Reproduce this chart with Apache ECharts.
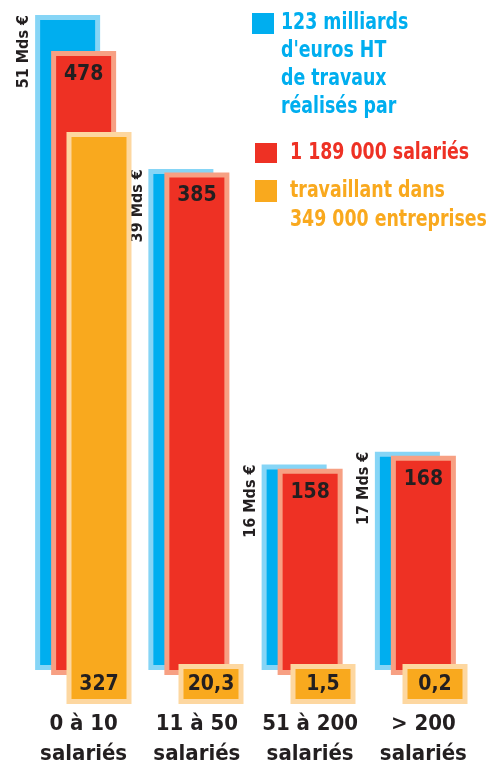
<!DOCTYPE html>
<html><head><meta charset="utf-8">
<script src="https://cdn.jsdelivr.net/npm/echarts@6/dist/echarts.min.js"></script>
<style>html,body{margin:0;padding:0;background:#fff}#c{width:491px;height:769px}</style>
</head><body><div id="c"></div>
<script>
const categories = ['0 à 10\nsalariés', '11 à 50\nsalariés', '51 à 200\nsalariés', '> 200\nsalariés'];
const chiffreAffaires = [51, 39, 16, 17];        // milliards d'euros HT
const salaries = [478, 385, 158, 168];           // milliers
const entreprises = [327, 20.3, 1.5, 0.2];       // milliers
const legendLabels = ["123 milliards\nd'euros HT\nde travaux\nréalisés par", '1 189 000 salariés', 'travaillant dans\n349 000 entreprises'];

const FONT = "'DejaVu Sans Condensed','Liberation Sans Narrow',sans-serif";
const DARK = '#231F20';
const C = {blue:'#00AEEF', blueEdge:'#86D5F6', red:'#EE3124', redEdge:'#F7A083', orange:'#F9A91E', orangeEdge:'#FDD7A0'};
const fmt = v => String(v).replace('.', ',');

const BW = 65, GW = 453;
const grids = [
  {left: 11, width: GW, top: 15, bottom: 99},
  {left: 27, width: GW, top: 51, bottom: 82},
  {left: 43, width: GW, top: 132, bottom: 65}
];
const chart = echarts.init(document.getElementById('c'), null, {renderer:'canvas'});
const xAxis = grids.map((g, i) => ({
  gridIndex: i, type: 'category', data: categories,
  axisLine:{show:false}, axisTick:{show:false},
  axisLabel: i === 1 ? {show:true, margin: 34, color: DARK, fontFamily: FONT, fontWeight:'bold', fontSize: 22, lineHeight: 30, interval: 0} : {show:false}
}));
const yAxis = [
  {gridIndex:0, type:'value', min:0, max:51, show:false},
  {gridIndex:1, type:'value', min:0, max:478, show:false},
  {gridIndex:2, type:'value', min:0, max:327, show:false}
];
chart.setOption({
  animation: false,
  grid: grids,
  xAxis, yAxis,
  series: [
    {name: legendLabels[0], type:'bar', xAxisIndex:0, yAxisIndex:0, data: chiffreAffaires, barWidth: BW, z: 2,
     itemStyle:{color:C.blue, borderColor:C.blueEdge, borderWidth:5},
     label:{show:true, position:[-11, 0], rotate:90, align:'right', verticalAlign:'middle',
       formatter: p => fmt(p.value) + ' Mds €', color: DARK, fontFamily: FONT, fontWeight:'bold', fontSize: 16}},
    {name: legendLabels[1], type:'bar', xAxisIndex:1, yAxisIndex:1, data: salaries, barWidth: BW, z: 3,
     itemStyle:{color:C.red, borderColor:C.redEdge, borderWidth:5},
     label:{show:true, position:'insideTop', distance: 13, formatter: p => fmt(p.value),
       color: DARK, fontFamily: FONT, fontWeight:'bold', fontSize: 21}},
    {name: legendLabels[2], type:'bar', xAxisIndex:2, yAxisIndex:2, data: entreprises, barWidth: BW, z: 4, barMinHeight: 40,
     itemStyle:{color:C.orange, borderColor:C.orangeEdge, borderWidth:5},
     label:{show:true, position:'insideBottom', distance: 9, formatter: p => fmt(p.value),
       color: DARK, fontFamily: FONT, fontWeight:'bold', fontSize: 21}}
  ],
  graphic: [
    {type:'rect', left:252, top:13, shape:{width:22, height:21}, style:{fill:C.blue}},
    {type:'text', x:281, y:9, scaleX:0.84, style:{text: legendLabels[0], fill:C.blue, font:'bold 23px ' + FONT, lineHeight: 28}},
    {type:'rect', left:255, top:143, shape:{width:22, height:20}, style:{fill:C.red}},
    {type:'text', x:290, y:139, scaleX:0.84, style:{text: legendLabels[1], fill:C.red, font:'bold 23px ' + FONT, lineHeight: 28}},
    {type:'rect', left:255, top:180, shape:{width:22, height:22}, style:{fill:C.orange}},
    {type:'text', x:290, y:177, scaleX:0.84, style:{text: legendLabels[2], fill:C.orange, font:'bold 23px ' + FONT, lineHeight: 29}}
  ]
});
</script></body></html>
